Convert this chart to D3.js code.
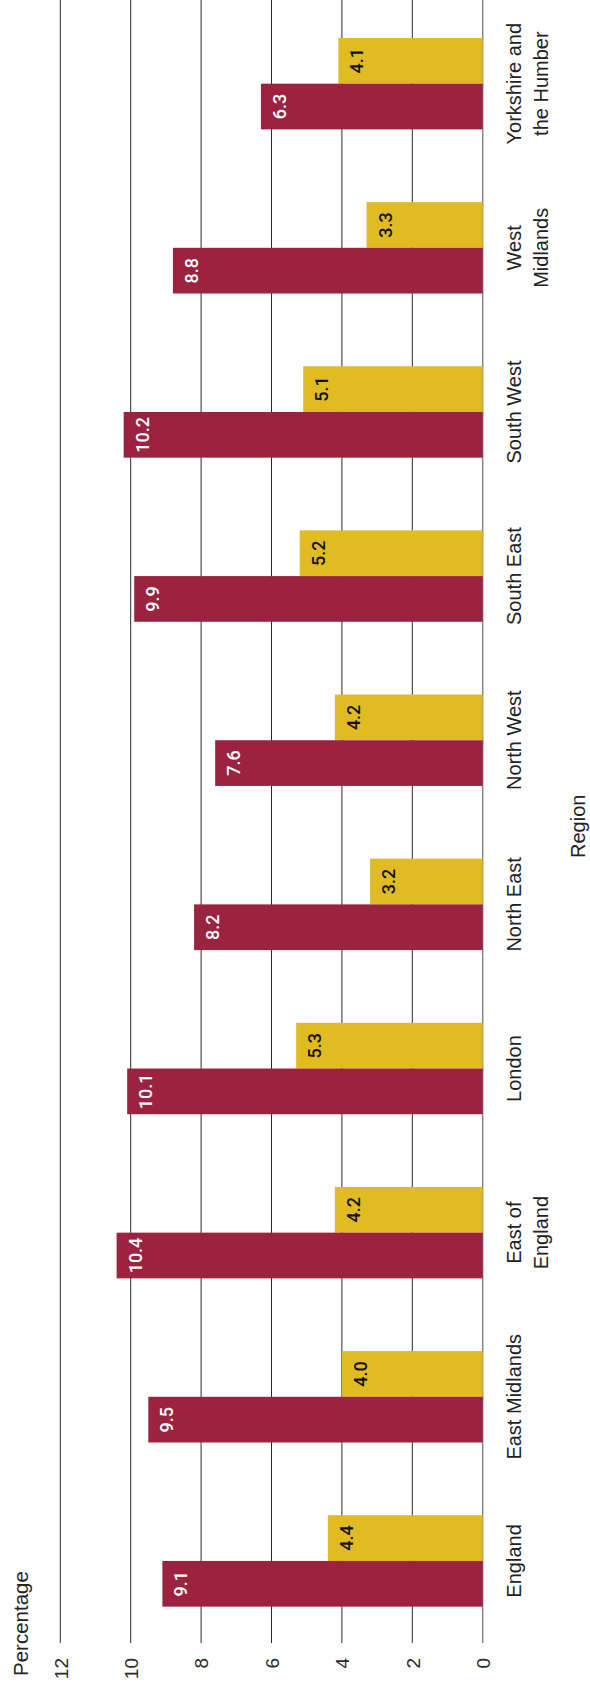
<!DOCTYPE html>
<html>
<head>
<meta charset="utf-8">
<script src="https://cdn.jsdelivr.net/npm/d3@7"></script>
<style>
  html, body { margin: 0; padding: 0; background: #fff; }
  svg { display: block; font-family: "Liberation Sans", Arial, Helvetica, sans-serif; }
</style>
</head>
<body>
<svg id="chart" width="590" height="1687"></svg>
<script>
// ---- Data ----
const categories = ["England", "East Midlands", "East of England", "London", "North East",
  "North West", "South East", "South West", "West Midlands", "Yorkshire and the Humber"];
const categoryLines = [["England"], ["East Midlands"], ["East of", "England"], ["London"], ["North East"],
  ["North West"], ["South East"], ["South West"], ["West", "Midlands"], ["Yorkshire and", "the Humber"]];
const seriesNames = ["red", "yellow"];
const redValues = [9.1, 9.5, 10.4, 10.1, 8.2, 7.6, 9.9, 10.2, 8.8, 6.3];
const yellowValues = [4.4, 4.0, 4.2, 5.3, 3.2, 4.2, 5.2, 5.1, 3.3, 4.1];
const tickValues = [0, 2, 4, 6, 8, 10, 12];
const valueAxisTitle = "Percentage";
const categoryAxisTitle = "Region";

// ---- Layout (chart rotated: values grow to the left, categories run bottom-to-top) ----
const svg = d3.select("#chart");
const RED = "#9b2340", YELLOW = "#e0bb22";
const plotTop = 1.6, plotBottom = 1643;

const x = d3.scaleLinear().domain([0, 12]).range([482.7, 60.3]);
const y = d3.scaleBand().domain(categories.slice().reverse()).range([plotTop, plotBottom])
  .paddingInner(0.443).paddingOuter(0.2215);
const ySub = d3.scaleBand().domain(["yellow", "red"]).range([0, y.bandwidth()]);

// gridlines
svg.append("g").selectAll("line").data(tickValues).join("line")
  .attr("x1", d => x(d)).attr("x2", d => x(d))
  .attr("y1", 0).attr("y2", plotBottom)
  .attr("stroke", d => d === 0 ? "#808080" : "#2a2a2a")
  .attr("stroke-width", d => d === 0 ? 1.4 : 1);

// tick labels
svg.append("g").selectAll("text").data(tickValues).join("text")
  .attr("transform", d => `translate(${x(d)},1658) rotate(-90)`)
  .attr("dy", "0.38em")
  .attr("text-anchor", "end")
  .attr("font-size", 19)
  .attr("fill", "#2a2a2a")
  .text(d => d);

// bars
const rows = categories.map((c, i) => ({ cat: c, red: redValues[i], yellow: yellowValues[i] }));
const groups = svg.append("g").selectAll("g").data(rows).join("g")
  .attr("transform", d => `translate(0,${y(d.cat)})`);

const barData = d => [
  { key: "yellow", value: d.yellow, fill: YELLOW, text: "#111" },
  { key: "red", value: d.red, fill: RED, text: "#fff" }
];

groups.selectAll("rect").data(barData).join("rect")
  .attr("x", d => x(d.value))
  .attr("width", d => x(0) - x(d.value))
  .attr("y", d => ySub(d.key))
  .attr("height", ySub.bandwidth())
  .attr("fill", d => d.fill);

groups.selectAll("text").data(barData).join("text")
  .attr("transform", d => `translate(${x(d.value) + 25},${ySub(d.key) + ySub.bandwidth() / 2}) rotate(-90)`)
  .attr("text-anchor", "middle")
  .attr("font-family", "Roboto, 'Liberation Sans', sans-serif")
  .attr("font-weight", 500)
  .attr("font-size", 18)
  .attr("fill", d => d.text)
  .text(d => d.value.toFixed(1));

// category labels
const catG = svg.append("g").selectAll("text").data(categories).join("text")
  .attr("transform", d => `translate(521,${y(d) + y.bandwidth() / 2}) rotate(-90)`)
  .attr("text-anchor", "middle")
  .attr("font-size", 20)
  .attr("fill", "#222");
catG.selectAll("tspan").data((d, i) => categoryLines[i]).join("tspan")
  .attr("x", 0)
  .attr("dy", (d, i) => i === 0 ? 0 : 27)
  .text(d => d);

// axis titles
svg.append("text")
  .attr("transform", `translate(27.5,1676) rotate(-90)`)
  .attr("text-anchor", "start")
  .attr("font-size", 20.5)
  .attr("fill", "#222")
  .text(valueAxisTitle);

svg.append("text")
  .attr("transform", `translate(585,${(plotTop + plotBottom) / 2 + 4}) rotate(-90)`)
  .attr("text-anchor", "middle")
  .attr("font-size", 20)
  .attr("fill", "#222")
  .text(categoryAxisTitle);
</script>
</body>
</html>
